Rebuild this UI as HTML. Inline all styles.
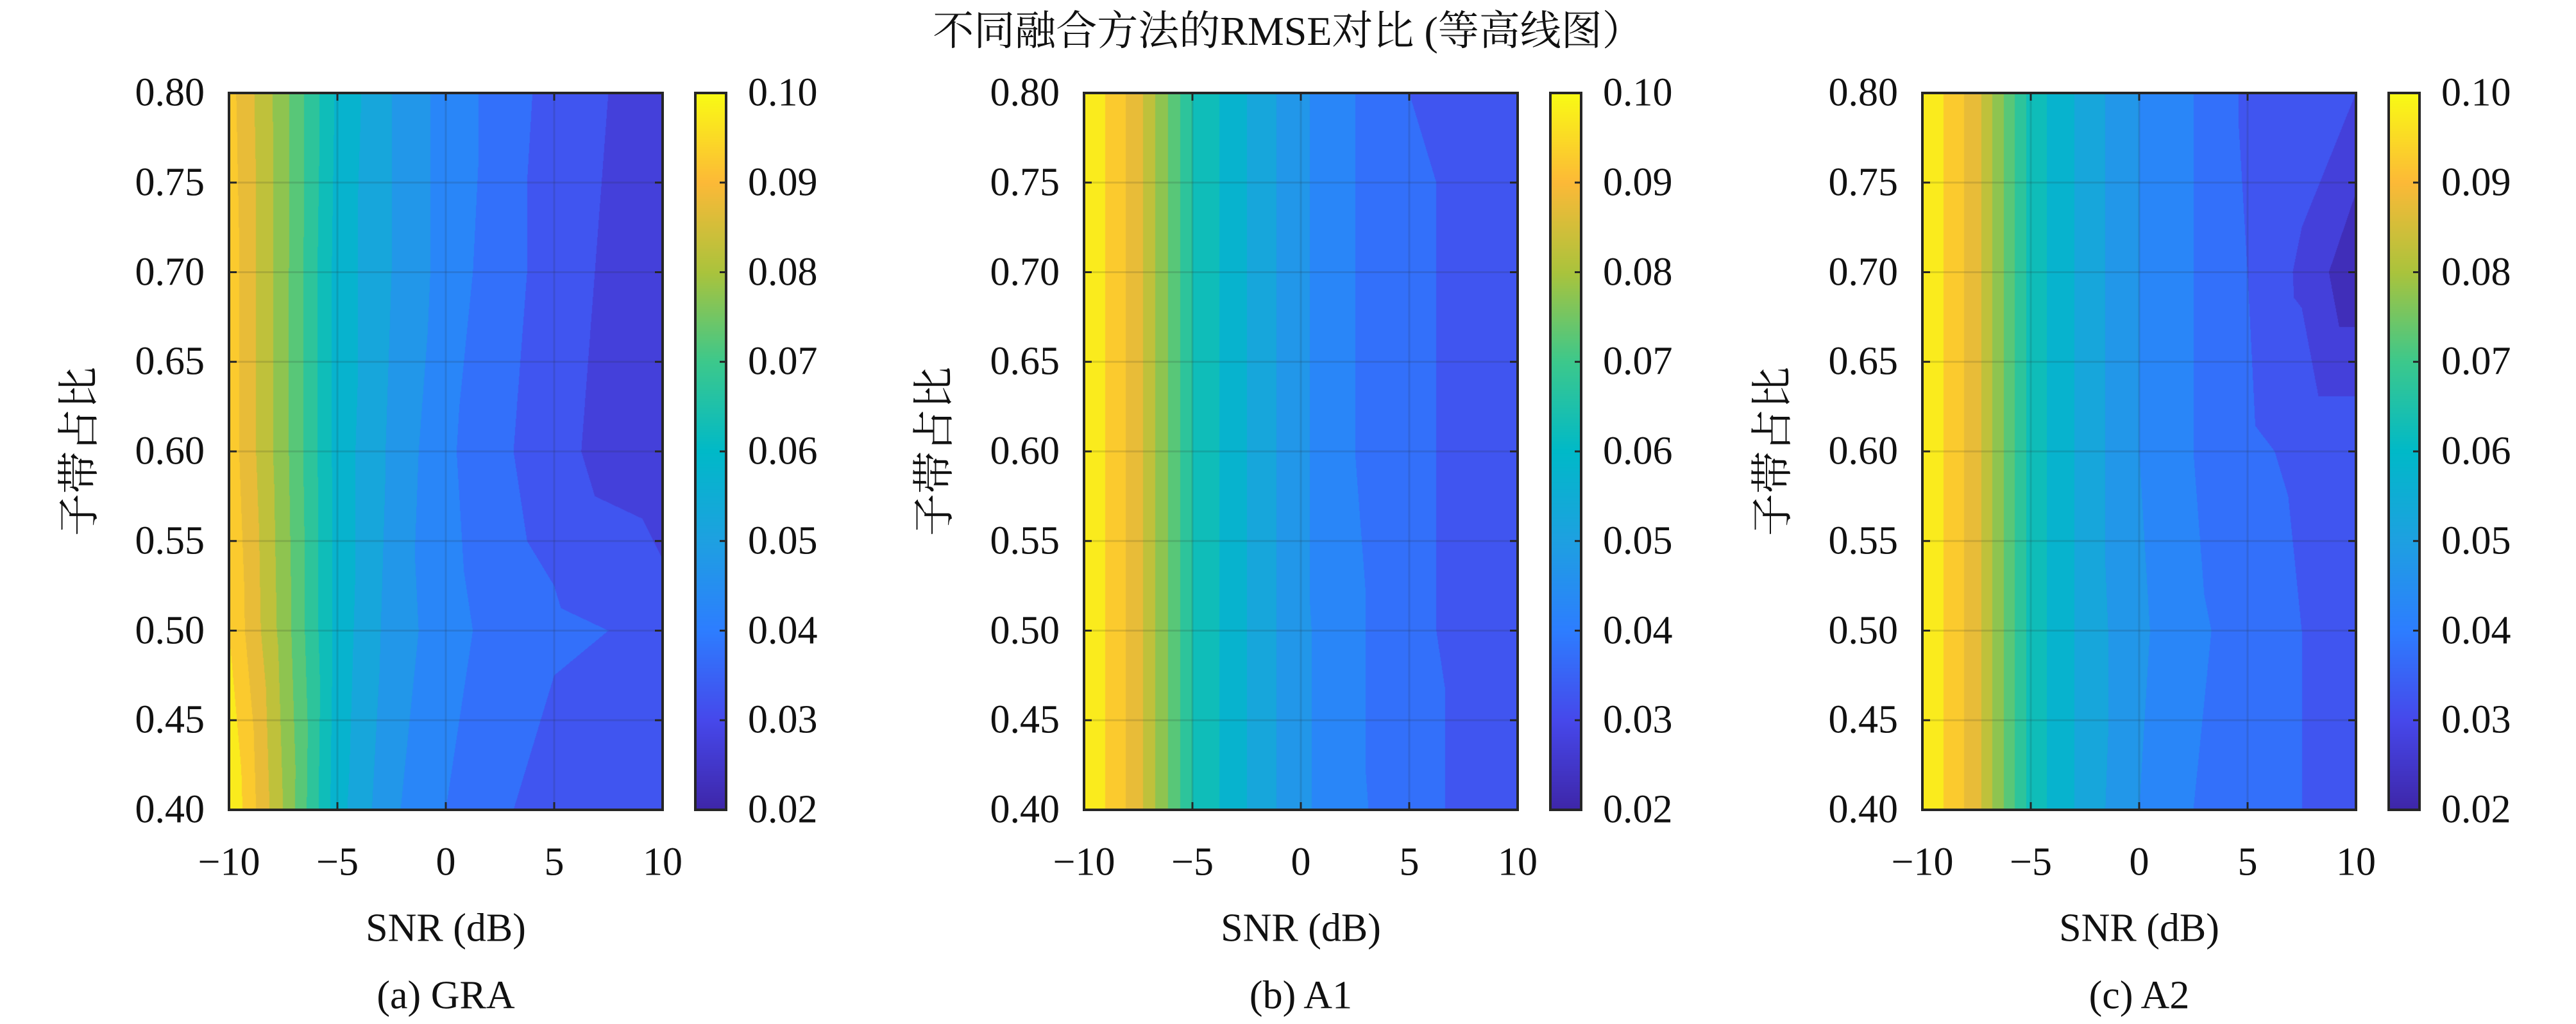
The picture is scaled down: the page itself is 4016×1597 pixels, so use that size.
<!DOCTYPE html>
<html><head><meta charset="utf-8">
<style>
html,body{margin:0;padding:0;background:#fff;}
#root{position:relative;width:4016px;height:1597px;overflow:hidden;font-family:"Liberation Serif","Noto Serif CJK SC",serif;color:#111;}
.t{position:absolute;white-space:nowrap;}
canvas{position:absolute;}
svg{position:absolute;left:0;top:0;}
</style></head>
<body>
<div id="root">
<div class="t" style="left:2008px;top:43px;transform:translate(-50%,-50%);font-size:64px;">不同融合方法的RMSE对比 (等高线图）</div>
</div>
<script>
const snrValues=[-10,-7.5,-5,-2.5,0,2.5,5,7.5,10];
const ratioValues=[0.4,0.5,0.6,0.7,0.8];
const xTickLabels=[-10,-5,0,5,10];
const yTickLabels=[0.40,0.45,0.50,0.55,0.60,0.65,0.70,0.75,0.80];
const cbTickLabels=[0.02,0.03,0.04,0.05,0.06,0.07,0.08,0.09,0.10];
const rmseGRA=[
[0.100,0.080,0.057,0.046,0.040,0.036,0.032,0.031,0.034],
[0.095,0.078,0.058,0.048,0.042,0.038,0.036,0.035,0.032],
[0.093,0.077,0.058,0.049,0.041,0.036,0.032,0.028,0.027],
[0.093,0.077,0.058,0.050,0.043,0.037,0.033,0.029,0.028],
[0.092,0.077,0.059,0.050,0.043,0.038,0.033,0.030,0.028]];
const rmseA1=[
[0.100,0.087,0.065,0.055,0.046,0.041,0.037,0.034,0.034],
[0.100,0.087,0.065,0.055,0.046,0.041,0.036,0.034,0.034],
[0.100,0.087,0.065,0.055,0.046,0.040,0.036,0.034,0.034],
[0.100,0.087,0.065,0.055,0.046,0.040,0.036,0.034,0.034],
[0.100,0.087,0.065,0.055,0.046,0.040,0.035,0.034,0.034]];
const rmseA2=[
[0.100,0.087,0.063,0.053,0.045,0.040,0.037,0.035,0.035],
[0.100,0.087,0.063,0.053,0.046,0.041,0.038,0.035,0.034],
[0.100,0.087,0.063,0.053,0.045,0.040,0.036,0.034,0.034],
[0.100,0.087,0.063,0.053,0.045,0.040,0.035,0.029,0.021],
[0.100,0.087,0.063,0.053,0.045,0.040,0.034,0.033,0.030]];
const panelNames=['gra','a1','a2'];
const captions=['(a) GRA','(b) A1','(c) A2'];

const PAL=[[62,38,168],[70,72,235],[45,125,255],[30,160,225],[0,185,200],[60,200,140],[170,195,60],[252,185,55],[249,251,20]];
function parula(t){t=Math.max(0,Math.min(1,t));const s=t*8,i=Math.min(7,Math.floor(s)),f=s-i;const a=PAL[i],b=PAL[i+1];return [0,1,2].map(k=>Math.round(a[k]+(b[k]-a[k])*f));}
const vmin=0.02,vmax=0.10,step=0.005;
const root=document.getElementById('root');
const AX={top:145,bottom:1263};
const lefts=[357,1690,2997],W=676,CBOFF=727,CBW=48;
const FS=62;
const NS='http://www.w3.org/2000/svg';
const svg=document.createElementNS(NS,'svg');
svg.setAttribute('width',4016);svg.setAttribute('height',1597);



function interp(Z,x,y){
 let i=0;while(i<snrValues.length-2&&x>snrValues[i+1])i++;
 let j=0;while(j<ratioValues.length-2&&y>ratioValues[j+1])j++;
 const tx=(x-snrValues[i])/(snrValues[i+1]-snrValues[i]),ty=(y-ratioValues[j])/(ratioValues[j+1]-ratioValues[j]);
 let v;
 if(tx>=ty){v=Z[j][i]+(Z[j][i+1]-Z[j][i])*tx+(Z[j+1][i+1]-Z[j][i+1])*ty;}
 else{v=Z[j][i]+(Z[j+1][i]-Z[j][i])*ty+(Z[j+1][i+1]-Z[j+1][i])*tx;}
 return v;
}
function line(x1,y1,x2,y2,st,sw,op,name){const l=document.createElementNS(NS,'line');l.setAttribute('x1',x1);l.setAttribute('y1',y1);l.setAttribute('x2',x2);l.setAttribute('y2',y2);l.setAttribute('stroke',st);l.setAttribute('stroke-width',sw);if(op)l.setAttribute('stroke-opacity',op);


svg.appendChild(l);}
function text(x,y,s,anchor,name,size){const d=document.createElement('div');d.className='t';d.textContent=s;d.style.left=x+'px';d.style.top=y+'px';d.style.fontSize=(size||FS)+'px';d.style.transform=anchor;


root.appendChild(d);}

[rmseGRA,rmseA1,rmseA2].forEach((Z,p)=>{
 const L=lefts[p],H=AX.bottom-AX.top;
 const xs=v=>L+(v-snrValues[0])/(snrValues[snrValues.length-1]-snrValues[0])*W;
 const ys=v=>AX.bottom-(v-ratioValues[0])/(ratioValues[ratioValues.length-1]-ratioValues[0])*H;
 const cv=document.createElement('canvas');cv.width=W;cv.height=H;cv.style.left=L+'px';cv.style.top=AX.top+'px';
 
 
 root.appendChild(cv);
 const ctx=cv.getContext('2d');const img=ctx.createImageData(W,H);
 for(let py=0;py<H;py++){const yv=ratioValues[4]-(py+0.5)/H*(ratioValues[4]-ratioValues[0]);
  for(let px=0;px<W;px++){const xv=snrValues[0]+(px+0.5)/W*(snrValues[8]-snrValues[0]);
   let v=interp(Z,xv,yv);let lv=Math.floor((v-vmin)/step+1e-9)*step+vmin;lv=Math.min(lv,vmax);
   const c=parula((lv+step*0.5-vmin)/(vmax-vmin));const k=(py*W+px)*4;img.data[k]=c[0];img.data[k+1]=c[1];img.data[k+2]=c[2];img.data[k+3]=255;}}
 ctx.putImageData(img,0,0);
 xTickLabels.forEach(t=>{const x=xs(t);line(x,AX.top,x,AX.bottom,'#262626',3,0.15,'x-grid-line');line(x,AX.bottom,x,AX.bottom-12,'#262626',3,null,'x-tick');line(x,AX.top,x,AX.top+12,'#262626',3,null,'x-tick-top');
  text(x,1345,(t<0?'\u2212'+(-t):''+t),'translate(-50%,-50%)','x-tick-label');});
 yTickLabels.forEach(t=>{const y=ys(t);line(L,y,L+W,y,'#262626',3,0.15,'y-grid-line');line(L,y,L+12,y,'#262626',3,null,'y-tick');line(L+W,y,L+W-12,y,'#262626',3,null,'y-tick-right');
  text(L-38,y,t.toFixed(2),'translate(-100%,-50%)','y-tick-label');});
 const r=document.createElementNS(NS,'rect');r.setAttribute('x',L);r.setAttribute('y',AX.top);r.setAttribute('width',W);r.setAttribute('height',H);r.setAttribute('fill','none');r.setAttribute('stroke','#262626');r.setAttribute('stroke-width',4);
 
 
 svg.appendChild(r);
 const cx=L+CBOFF;
 const cb=document.createElement('canvas');cb.width=CBW;cb.height=H;cb.style.left=cx+'px';cb.style.top=AX.top+'px';
 
 
 root.appendChild(cb);
 const c2=cb.getContext('2d');for(let py=0;py<H;py++){const c=parula(1-py/H);c2.fillStyle=`rgb(${c[0]},${c[1]},${c[2]})`;c2.fillRect(0,py,CBW,1);}
 const rb=document.createElementNS(NS,'rect');rb.setAttribute('x',cx);rb.setAttribute('y',AX.top);rb.setAttribute('width',CBW);rb.setAttribute('height',H);rb.setAttribute('fill','none');rb.setAttribute('stroke','#262626');rb.setAttribute('stroke-width',4);
 
 
 svg.appendChild(rb);
 cbTickLabels.forEach(t=>{const y=AX.bottom-(t-vmin)/(vmax-vmin)*H;line(cx+CBW,y,cx+CBW-10,y,'#262626',3,null,'colorbar-tick');text(cx+CBW+34,y,t.toFixed(2),'translate(0,-50%)','colorbar-tick-label');});
 text(L+W/2,1448,'SNR (dB)','translate(-50%,-50%)','x-axis-title');
 text(L+W/2,1553,captions[p],'translate(-50%,-50%)','subplot-caption');
 text(L-240,(AX.top+AX.bottom)/2,'子带占比','translate(-50%,-50%) rotate(-90deg)','y-axis-title',66);
});
root.appendChild(svg);
</script>
</body></html>
